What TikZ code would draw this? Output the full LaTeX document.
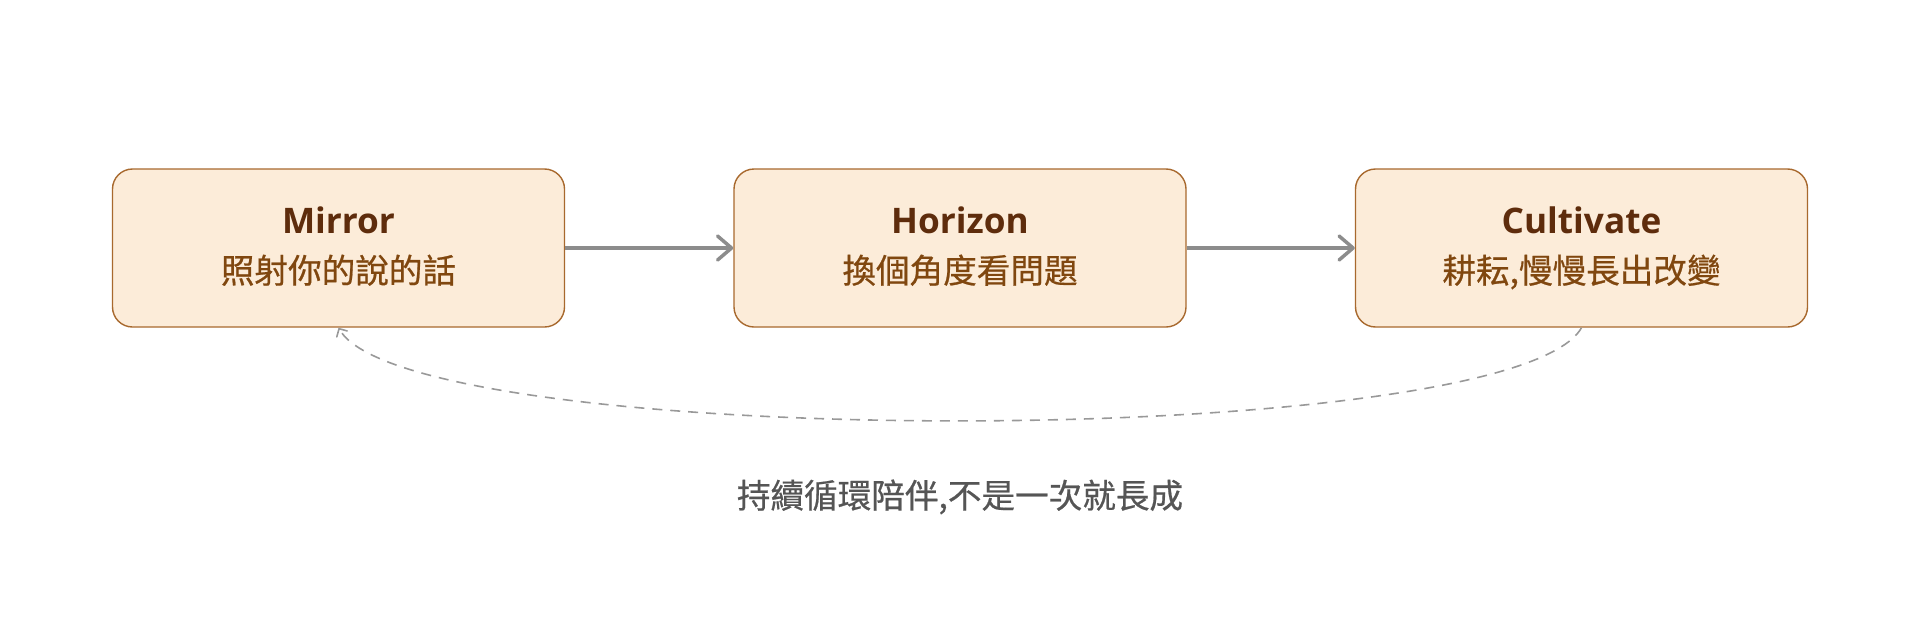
\documentclass[tikz,border=0pt]{standalone}
\usepackage{fontspec}
\setmainfont{Noto Sans}
\newfontfamily\titlefont{Open Sans}
\newfontfamily\cjk{Noto Sans CJK TC}[FakeBold=0.6]
\usetikzlibrary{arrows.meta,calc}
\definecolor{boxfill}{HTML}{FCECD9}
\definecolor{boxline}{HTML}{A8692E}
\definecolor{titlecol}{HTML}{5E2C0C}
\definecolor{subcol}{HTML}{80470F}
\definecolor{arrowgray}{HTML}{8C8C8C}
\definecolor{dashgray}{HTML}{999999}
\definecolor{notecol}{HTML}{555555}
\tikzset{
  stagebox/.style={draw=boxline, fill=boxfill, line width=0.7pt, rounded corners=10pt,
    minimum width=226pt, minimum height=79pt, inner sep=0pt},
  titletext/.style={anchor=base, text=titlecol, inner sep=0pt,
    font=\titlefont\bfseries\fontsize{17.6}{20}\selectfont},
  subtext/.style={anchor=base, text=subcol, inner sep=0pt,
    font=\cjk\fontsize{16.8}{20}\selectfont},
  notetext/.style={anchor=base, text=notecol, inner sep=0pt,
    font=\cjk\fontsize{16.8}{20}\selectfont},
  flow/.style={draw=arrowgray, line width=1.75pt,
    -{Straight Barb[length=7pt,width=12pt,line cap=round,line join=round]}},
  loopback/.style={draw=dashgray, line width=0.8pt, dash pattern=on 5pt off 4pt,
    -{Straight Barb[length=3pt,width=6pt,line cap=round]}}
}
\begin{document}
\begin{tikzpicture}[x=0.5pt,y=-0.5pt]
\useasboundingbox (0,0) rectangle (1920,621);
\node[stagebox] (m) at (338.5,248) {};
\node[stagebox] (h) at (960,248) {};
\node[stagebox] (c) at (1581.5,248) {};
\node[titletext] (mt) at (338.5,233) {Mirror};
\node[subtext] (ms) at (338.5,283) {照射你的說的話};
\node[titletext] (ht) at (960,233) {Horizon};
\node[subtext] (hs) at (960,283) {換個角度看問題};
\node[titletext] (ct) at (1581.5,233) {Cultivate};
\node[subtext] (cs) at (1581.5,283) {耕耘,慢慢長出改變};
\draw[flow] (m.east) -- (h.west);
\draw[flow] (h.east) -- (c.west);
\draw[loopback] (c.south) .. controls ($(c.south)+(-70,124)$) and ($(m.south)+(70,124)$) .. (m.south);
\node[notetext] (note) at (960,508) {持續循環陪伴,不是一次就長成};
\end{tikzpicture}
\end{document}
